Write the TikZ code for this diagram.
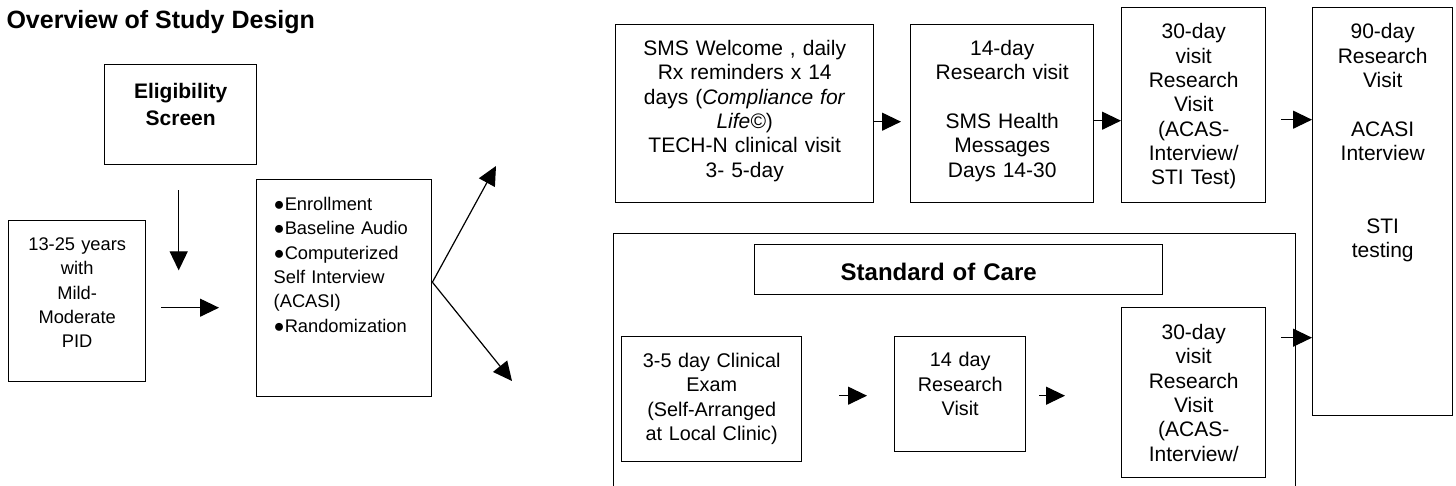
\documentclass[tikz,border=0pt]{standalone}
\usepackage{fontspec}
\setmainfont{Liberation Sans}
\usepackage{tikz}
\usetikzlibrary{arrows.meta}

\begin{document}
\begin{tikzpicture}[x=1pt, y=1pt,
        box/.style={draw, line width=1.4pt, anchor=north west, inner sep=0pt, align=center},
        lbox/.style={box, align=left, inner xsep=17pt},
        big/.style={font=\fontsize{21}{24.3}\selectfont},
        mid/.style={font=\fontsize{19.8}{24.3}\selectfont},
        small/.style={font=\fontsize{18.3}{24.3}\selectfont},
        arr/.style={-{Triangle[length=19pt,width=18pt]}, line width=1.2pt}]
    \useasboundingbox (0,0) rectangle (1456,-486);
    \node[anchor=base west, font=\fontsize{25}{30}\selectfont\bfseries] (title) at (3,-29) {Overview of Study Design};
    \node[box, font=\fontsize{21}{26.7}\selectfont\bfseries, text width=152pt, text height=34pt, text depth=66pt] (elig) at (104,-64) {Eligibility\\Screen};
    \node[box, small, text width=137pt, text height=30pt, text depth=131pt] (age) at (8,-220) {13-25 years\\with\\Mild-\\Moderate\\PID};
    \node[lbox, small, text width=141pt, text height=31pt, text depth=186pt] (enroll) at (256,-179) {●Enrollment\\●Baseline Audio\\●Computerized\\Self Interview\\(ACASI)\\●Randomization};
    \node[box, big, text width=258pt, text height=31pt, text depth=147pt] (sms) at (615,-24) {SMS Welcome , daily\\Rx reminders x 14\\days (\textit{Compliance for}\\\textit{Life©})\\TECH-N clinical visit\\3- 5-day};
    \node[box, big, text width=183pt, text height=31pt, text depth=147pt] (day14) at (910,-24) {14-day\\Research visit\\[24.3pt]SMS Health\\Messages\\Days 14-30};
    \node[box, big, text width=144pt, text height=31.3pt, text depth=163.7pt] (day30) at (1121,-7) {30-day\\visit\\Research\\Visit\\(ACAS-\\Interview/\\STI Test)};
    \node[box, big, text width=140pt, text height=31.3pt, text depth=376.7pt] (day90) at (1312,-7) {90-day\\Research\\Visit\\[24.3pt]ACASI\\Interview\\[48.6pt]STI\\testing};
    \node[box, minimum width=682pt, minimum height=257pt] (socframe) at (613,-233) {};
    \node[box, align=left, inner xsep=86pt, font=\fontsize{24}{28}\selectfont\bfseries, text width=236pt, text height=36pt, text depth=14pt] (soclabel) at (754,-244) {Standard of Care};
    \node[box, mid, text width=180pt, text height=30.7pt, text depth=94.3pt] (clin) at (621,-336) {3-5 day Clinical\\Exam\\(Self-Arranged\\at Local Clinic)};
    \node[box, mid, text width=131pt, text height=30pt, text depth=85pt] (r14) at (894,-336) {14 day\\Research\\Visit};
    \node[box, big, text width=144pt, text height=32pt, text depth=138pt] (s30) at (1121,-307) {30-day\\visit\\Research\\Visit\\(ACAS-\\Interview/};
    \coordinate (armtop) at (496,-166);
    \coordinate (armsoc) at (512,-381);
    \draw[arr] ([xshift=-2pt,yshift=-25pt]elig.south) -- ([xshift=-2pt,yshift=-105pt]elig.south);
    \draw[arr] ([xshift=15pt,yshift=-6.5pt]age.east) -- ([xshift=-37pt,yshift=-19.5pt]enroll.west);
    \draw[arr] ([yshift=6pt]enroll.east) -- (armtop);
    \draw[arr] ([yshift=6pt]enroll.east) -- (armsoc);
    \draw[arr] ([yshift=-8pt]sms.east) -- ([xshift=-9pt,yshift=-8pt]day14.west);
    \draw[arr] ([yshift=-7pt]day14.east) -- ([yshift=-15.5pt]day30.west);
    \draw[arr] ([xshift=15pt,yshift=-14.5pt]day30.east) -- ([yshift=92pt]day90.west);
    \draw[arr] ([xshift=15pt,yshift=55pt]s30.east) -- ([yshift=-126pt]day90.west);
    \draw[arr] ([xshift=37pt,yshift=3.5pt]clin.east) -- ([xshift=-27pt,yshift=-1.5pt]r14.west);
    \draw[arr] ([xshift=13pt,yshift=-1.5pt]r14.east) -- ([xshift=-56pt,yshift=-3pt]s30.west);
\end{tikzpicture}
\end{document}
